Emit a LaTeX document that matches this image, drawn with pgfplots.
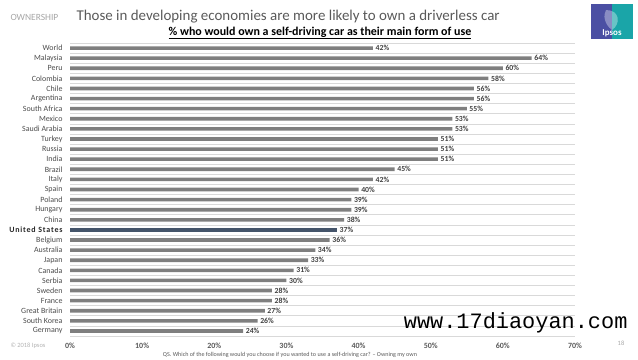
\documentclass[border=0pt]{standalone}
\usepackage{pgfplots}
\pgfplotsset{compat=1.18}
\usepackage{fontspec}
\setmainfont{Carlito}
\newfontfamily\monofont{Liberation Mono}
\definecolor{bargray}{HTML}{7F7F7F}
\definecolor{usblue}{HTML}{44546A}
\definecolor{txtgray}{HTML}{595959}
\definecolor{gridgray}{HTML}{D9D9D9}
\definecolor{ipsosblue}{HTML}{4B4FA3}
\definecolor{ipsosteal}{HTML}{1AA5A8}
\begin{document}
\begin{tikzpicture}
\path[use as bounding box] (0,0) rectangle (638bp,360bp);
% header
\node[anchor=west, text=black!35, font=\fontsize{9.5}{11}\selectfont] at (7bp,343bp) {OWNERSHIP};
\node[anchor=west, text=txtgray, font=\fontsize{15}{17}\selectfont] at (73bp,343bp) {Those in developing economies are more likely to own a driverless car};
\node[text=black, font=\bfseries\fontsize{12}{14}\selectfont] at (320bp,327bp) {\underline{\% who would own a self-driving car as their main form of use}};
% logo
\fill[ipsosblue] (591bp,321bp) rectangle (612bp,356bp);
\fill[ipsosteal] (612bp,321bp) rectangle (633bp,356bp);
\fill[white,opacity=0.35] (606bp,350bp) .. controls (620bp,350bp) and (621bp,336bp) .. (612bp,330bp) .. controls (604bp,336bp) and (603bp,345bp) .. (606bp,350bp);
\node[text=white, font=\bfseries\fontsize{9}{10}\selectfont] at (612bp,327bp) {Ipsos};
% footer
\node[anchor=west, text=black!30, font=\fontsize{6.5}{7}\selectfont] at (7bp,14bp) {\textcopyright\ 2018 Ipsos};
\node[text=black!35, font=\fontsize{6.5}{7}\selectfont] at (621bp,17bp) {18};
\node[text=txtgray, font=\fontsize{6.1}{7}\selectfont] at (290bp,5bp) {QS. Which of the following would you choose if you wanted to use a self-driving car? -- Owning my own};
\begin{axis}[
  at={(70bp,24bp)}, anchor=south west,
  scale only axis, width=505bp, height=293bp,
  xmin=0, xmax=70, ymin=-0.5, ymax=28.5, y dir=reverse,
  axis line style={draw=none},
  xtick={0,10,...,70},
  xticklabels={0\%,10\%,20\%,30\%,40\%,50\%,60\%,70\%},
  xticklabel style={text=txtgray, font=\bfseries\fontsize{8}{9}\selectfont, yshift=-3bp},
  ytick={0,...,28},
  yticklabels={World,Malaysia,Peru,Colombia,Chile,Argentina,South Africa,Mexico,Saudi Arabia,Turkey,Russia,India,Brazil,Italy,Spain,Poland,Hungary,China,{\bfseries\addfontfeatures{LetterSpace=10}\color{black!85}United States},Belgium,Australia,Japan,Canada,Serbia,Sweden,France,Great Britain,South Korea,Germany},
  yticklabel style={text=black!70, font=\fontsize{8}{9}\selectfont, xshift=-4bp},
  minor ytick={-0.5,0.5,...,28.5},
  yminorgrids, minor grid style={gridgray, line width=0.6pt},
  major tick length=0pt, minor tick length=0pt,
  xbar, bar width=3.6bp, bar shift=0pt,
  point meta=x,
  nodes near coords={\pgfmathprintnumber[assume math mode=true]{\pgfplotspointmeta}\%},
  nodes near coords style={text=black!75, font=\bfseries\fontsize{7.8}{8}\selectfont, anchor=west, inner xsep=2.5bp},
  clip=false,
]
\addplot[fill=bargray, draw=none] coordinates {
(42,0) (64,1) (60,2) (58,3) (56,4) (56,5) (55,6) (53,7) (53,8) (51,9) (51,10) (51,11) (45,12) (42,13) (40,14) (39,15) (39,16) (38,17) (36,19) (34,20) (33,21) (31,22) (30,23) (28,24) (28,25) (27,26) (26,27) (24,28)
};
\addplot[fill=usblue, draw=none] coordinates {(37,18)};
\end{axis}
\node[anchor=east, text=black, font=\monofont\fontsize{22}{24}\selectfont] at (631bp,37bp) {www.17diaoyan.com};
\end{tikzpicture}
\end{document}
